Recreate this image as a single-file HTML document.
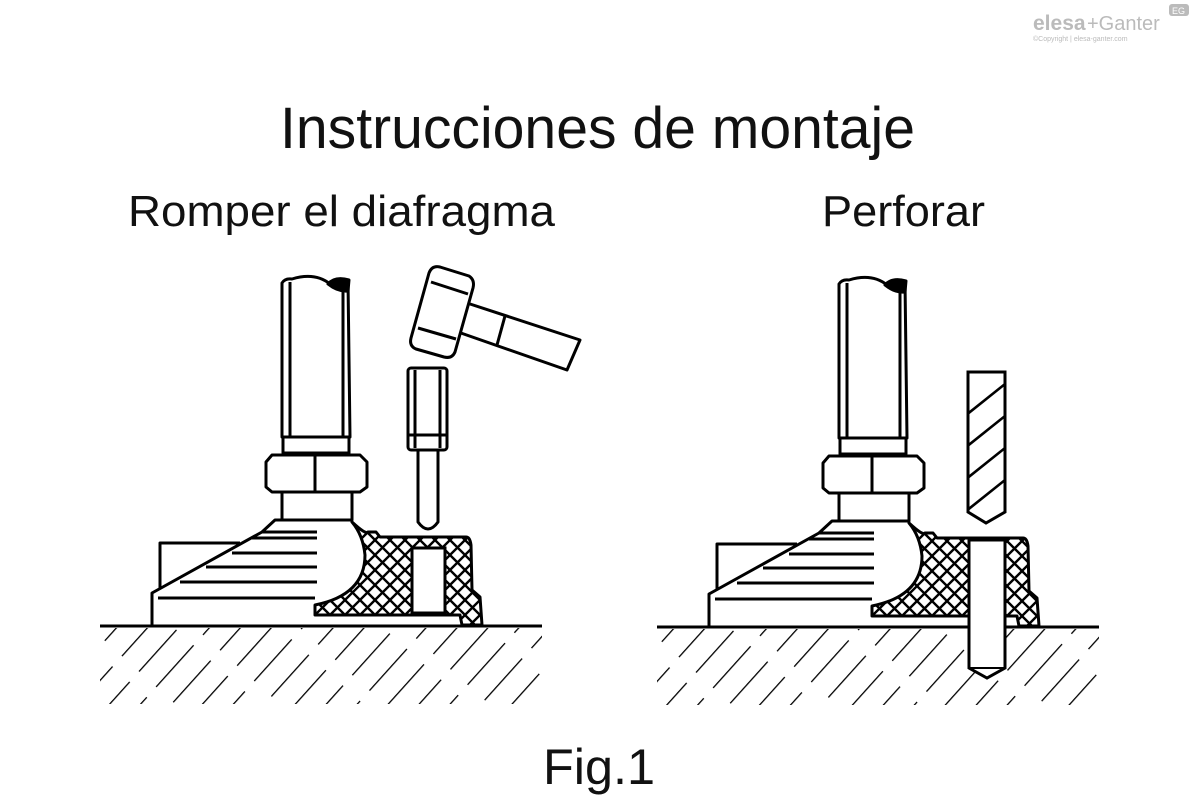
<!DOCTYPE html>
<html><head><meta charset="utf-8"><style>
html,body{margin:0;padding:0;background:#fff;}
svg{display:block}
</style></head><body>
<svg width="1200" height="797" viewBox="0 0 1200 797" xmlns="http://www.w3.org/2000/svg">
<defs>
<pattern id="xh" patternUnits="userSpaceOnUse" width="15" height="15">
<path d="M0,0 L15,15 M15,0 L0,15 M-2,13 L2,17 M13,-2 L17,2 M-2,2 L2,-2 M13,17 L17,13" stroke="#000" stroke-width="2.4"/>
</pattern>
<pattern id="dh" patternUnits="userSpaceOnUse" width="23" height="70" patternTransform="rotate(42)">
<line x1="0" y1="0" x2="0" y2="70" stroke="#000" stroke-width="2.6" stroke-dasharray="56 14"/>
</pattern>
<g id="asm" fill="none" stroke="#000" stroke-width="3" stroke-linejoin="round">
<rect x="100" y="628" width="442" height="76" fill="url(#dh)" stroke="none"/>
<line x1="100" y1="626" x2="542" y2="626"/>
<path d="M282,437 L282,283 Q285,278 292,279 Q315,272 330,284 L348,281 L350,437 Z" fill="#fff"/>
<path d="M328,284 Q335,276 349,280 L348,291 Q338,292 328,284 Z" fill="#000"/>
<line x1="290" y1="282" x2="290" y2="437"/><line x1="343" y1="287" x2="343" y2="437"/>
<rect x="283" y="437" width="66" height="16" fill="#fff"/>
<path d="M272,455 L360,455 L367,462 L367,487 L360,492 L272,492 L266,487 L266,462 Z" fill="#fff"/>
<line x1="315" y1="455" x2="315" y2="492"/>
<rect x="282" y="492" width="70" height="28" fill="#fff"/>
<path d="M160,588 L160,543 L240,543" />
<path d="M152,625 L152,593 L262,532 L275,520 L352,520"/>
<line x1="158" y1="598" x2="315" y2="598"/>
<line x1="180" y1="582" x2="317" y2="582"/>
<line x1="206" y1="567" x2="317" y2="567"/>
<line x1="232" y1="553" x2="317" y2="553"/>
<line x1="252" y1="538" x2="317" y2="538"/>
<line x1="262" y1="532" x2="317" y2="532"/>
<path d="M352,522 Q366,535 368,532 L376,532 L380,537 L466,537 Q470,537 471,545 L472,590 L480,597 L482,625 L462,625 L460,615 L315,615 L315,605 Q365,595 365,555 Q363,535 352,522 Z" fill="url(#xh)"/>
</g>
</defs>
<use href="#asm"/>
<rect x="412" y="548" width="33" height="65" fill="#fff" stroke="#000" stroke-width="3"/>
<g fill="#fff" stroke="#000" stroke-width="3" stroke-linejoin="round">
<path d="M418,448 L418,522 Q428,536 438,522 L438,448 Z"/>
<rect x="408" y="368" width="39" height="82" rx="3"/>
<line x1="415" y1="370" x2="415" y2="448"/><line x1="440" y1="370" x2="440" y2="448"/>
<line x1="408" y1="435" x2="447" y2="435"/>
<path d="M467,303 L580,340 L567,370 L458,332 Z"/>
<line x1="505" y1="316" x2="497" y2="345"/>
<path d="M440,267 L469,276 Q475,280 473,288 L455,352 Q452,359 444,357 L416,349 Q409,346 411,338 L429,273 Q432,265 440,267 Z"/>
<line x1="431" y1="282" x2="468" y2="294"/><line x1="418" y1="328" x2="456" y2="339"/>
</g>
<g transform="translate(557,1)"><use href="#asm"/></g>
<path d="M969,540 L1005,540 L1005,668 L987,678 L969,668 Z" fill="#fff" stroke="#000" stroke-width="3"/>
<line x1="969" y1="668" x2="1005" y2="668" stroke="#000" stroke-width="2"/>
<clipPath id="dc"><path d="M968,372 L1005,372 L1005,512 L986,523 L968,512 Z"/></clipPath>
<g clip-path="url(#dc)" stroke="#000" stroke-width="2.6">
<line x1="960" y1="420" x2="1010" y2="380"/><line x1="960" y1="452" x2="1010" y2="412"/>
<line x1="960" y1="484" x2="1010" y2="444"/><line x1="960" y1="516" x2="1010" y2="476"/>
<line x1="960" y1="548" x2="1010" y2="508"/>
</g>
<path d="M968,372 L1005,372 L1005,512 L986,523 L968,512 Z" fill="none" stroke="#000" stroke-width="3"/>
<g font-family="'Liberation Sans', Arial, sans-serif" fill="#111">
<text x="280" y="148" font-size="58" textLength="635" lengthAdjust="spacingAndGlyphs">Instrucciones de montaje</text>
<text x="128" y="226" font-size="44" textLength="427" lengthAdjust="spacingAndGlyphs">Romper el diafragma</text>
<text x="822" y="226" font-size="44" textLength="163" lengthAdjust="spacingAndGlyphs">Perforar</text>
<text x="543" y="784" font-size="50" textLength="112" lengthAdjust="spacingAndGlyphs">Fig.1</text>
<text x="1033" y="30" font-size="21" font-weight="bold" fill="#bbb">elesa</text>
<text x="1087" y="30" font-size="20" fill="#bbb">+Ganter</text>
<text x="1033" y="41" font-size="7" fill="#bbb">©Copyright | elesa-ganter.com</text>
</g>
<rect x="1169" y="4" width="20" height="12" rx="3" fill="#bbb"/>
<text x="1172" y="14" font-size="9" fill="#fff" font-family="'Liberation Sans',sans-serif">EG</text>
</svg>
</body></html>
